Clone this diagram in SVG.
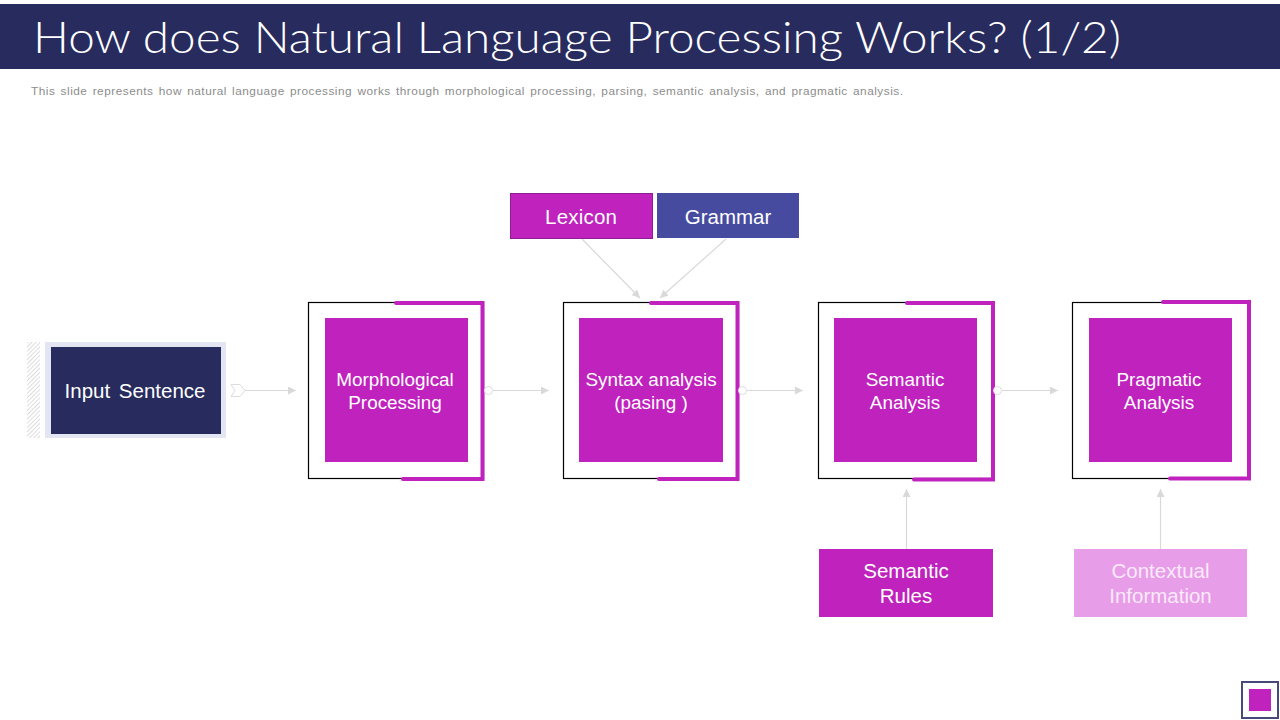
<svg xmlns="http://www.w3.org/2000/svg" width="1280" height="720" viewBox="0 0 1280 720">
<style>
text{font-family:"Liberation Sans",Arial,sans-serif;fill:#fff;text-anchor:middle}
.pt{font-size:18.9px}
.lb{font-size:20.5px}
.frame{fill:#fff;stroke:#000;stroke-width:1.2}
.acc{fill:none;stroke:#c022be;stroke-width:4;stroke-linecap:round;stroke-linejoin:miter}
.inner{fill:#c022be}
.cn{fill:none;stroke:#d9d9d9;stroke-width:1.2;marker-end:url(#ah)}
</style>
<defs>
<marker id="ah" markerUnits="userSpaceOnUse" markerWidth="9" markerHeight="8" refX="8" refY="4" orient="auto"><path d="M0 0L8 4L0 8Z" fill="#d9d9d9"/></marker>
<pattern id="hatch" width="3" height="3" patternUnits="userSpaceOnUse" patternTransform="rotate(45)"><rect width="3" height="3" fill="#fff"/><rect width="1" height="3" fill="#dcdcdc"/></pattern>
</defs>
<rect width="1280" height="720" fill="#fff"/>
<g id="header">
<rect x="0" y="4" width="1280" height="65" fill="#272b5e"/>
<text x="33" y="53" style="font-family:Lato,sans-serif;text-anchor:start;font-size:44px;font-weight:300" textLength="1088" lengthAdjust="spacingAndGlyphs">How does Natural Language Processing Works? (1/2)</text>
<text x="31" y="95" style="text-anchor:start;font-size:11.800px;word-spacing:1.500px;fill:#8c8c8c" textLength="872">This slide represents how natural language processing works through morphological processing, parsing, semantic analysis, and pragmatic analysis.</text>
</g>
<g id="connectors">
<path class="cn" d="M245 390.500H296"/>
<path d="M231 384.500H240L245 390.500L240 396.500H231L235 390.500Z" fill="#fff" stroke="#dcdcdc"/>
<path class="cn" d="M493 390.500H549"/>
<path class="cn" d="M747 390.500H803"/>
<path class="cn" d="M1002 390.500H1058"/>
<path class="cn" d="M582 239L640 298"/>
<path class="cn" d="M726 239L660 298"/>
<path class="cn" d="M906.500 549V489"/>
<path class="cn" d="M1160.500 549V489"/>
</g>
<g id="input-sentence">
<rect x="27" y="342" width="13" height="96" fill="url(#hatch)"/>
<rect x="45" y="342" width="181" height="96" fill="#e3e5f3"/>
<rect x="51" y="347" width="170" height="87" fill="#272b5e"/>
<text x="135" y="398" style="font-size:20.500px;word-spacing:3px">Input Sentence</text>
</g>
<g id="morphological-processing">
<rect class="frame" x="308.500" y="302.500" width="175" height="176"/>
<path class="acc" d="M396 303H482.500V479H403"/>
<rect class="inner" x="325" y="318" width="143" height="144"/>
<text class="pt" x="395" y="386">Morphological</text><text class="pt" x="395" y="409">Processing</text>
<circle cx="488.500" cy="390.500" r="4" fill="#fff" stroke="#dcdcdc"/>
</g>
<g id="syntax-analysis">
<rect class="frame" x="563.500" y="302.500" width="175" height="176"/>
<path class="acc" d="M651 303H737.500V479H659"/>
<rect class="inner" x="579" y="318" width="144" height="144"/>
<text class="pt" x="651" y="386">Syntax analysis</text><text class="pt" x="651" y="409">(pasing )</text>
<circle cx="742.500" cy="390.500" r="4" fill="#fff" stroke="#dcdcdc"/>
</g>
<g id="semantic-analysis">
<rect class="frame" x="818.500" y="302.500" width="175" height="176"/>
<path class="acc" d="M907 303H993V479.500H914"/>
<rect class="inner" x="834" y="318" width="143" height="144"/>
<text class="pt" x="905" y="386">Semantic</text><text class="pt" x="905" y="409">Analysis</text>
<circle cx="997.500" cy="390.500" r="4" fill="#fff" stroke="#dcdcdc"/>
</g>
<g id="pragmatic-analysis">
<rect class="frame" x="1072.500" y="302.500" width="176" height="176"/>
<path class="acc" d="M1163 302H1249V478.500H1170"/>
<rect class="inner" x="1089" y="318" width="143" height="144"/>
<text class="pt" x="1159" y="386">Pragmatic</text><text class="pt" x="1159" y="409">Analysis</text>
</g>
<g id="lexicon">
<rect x="510.500" y="193.500" width="142" height="45" fill="#c022be" stroke="#8f1f90" stroke-width="1"/>
<text class="lb" x="581" y="224" textLength="72">Lexicon</text>
</g>
<g id="grammar">
<rect x="657" y="193" width="142" height="45" fill="#474ba0"/>
<text class="lb" x="728" y="224">Grammar</text>
</g>
<g id="semantic-rules">
<rect x="819" y="549" width="174" height="68" fill="#c022be"/>
<text class="lb" x="906" y="578">Semantic</text><text class="lb" x="906" y="603">Rules</text>
</g>
<g id="contextual-information">
<rect x="1074" y="549" width="173" height="68" fill="#e89de9"/>
<text class="lb" x="1160.500" y="578" style="fill:#fbeafb">Contextual</text><text class="lb" x="1160.500" y="603" style="fill:#fbeafb">Information</text>
</g>
<g id="corner-mark">
<rect x="1242" y="682" width="36" height="36" fill="#fff" stroke="#474a78" stroke-width="2"/>
<rect x="1249" y="689" width="22" height="22" fill="#c022be"/>
</g>
</svg>
